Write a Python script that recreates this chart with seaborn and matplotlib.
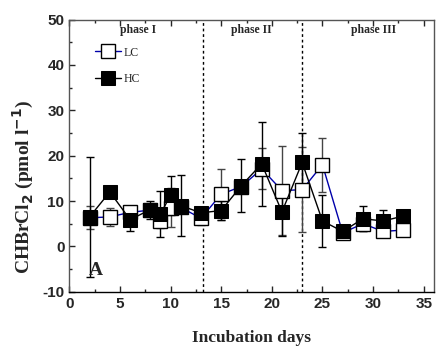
import numpy as np
import matplotlib
matplotlib.use('Agg')
import matplotlib.pyplot as plt
import seaborn as sns
import pandas as pd
from matplotlib.ticker import MultipleLocator

# incubation days and CHBrCl2 concentrations (pmol/l)
days = [2, 4, 6, 8, 9, 10, 11, 13, 15, 17, 19, 21, 23, 25, 27, 29, 31, 33]
lc = [6.3, 6.5, 7.5, 8.0, 5.5, 8.5, 8.6, 6.2, 11.5, 13.2, 17.1, 12.3, 12.5, 18.0, 3.0, 5.0, 3.3, 3.6]
lc_err = [2.5, 1.9, 0.9, 1.0, 1.5, 4.3, 1.0, 1.5, 5.6, 1.5, 4.5, 9.8, 9.4, 6.0, 1.0, 1.5, 1.0, 1.0]
hc = [6.5, 12.0, 5.9, 8.1, 7.1, 11.3, 9.0, 7.4, 7.9, 13.4, 18.2, 7.6, 18.5, 5.6, 3.3, 6.1, 5.6, 6.7]
hc_err = [13.3, 0.8, 2.6, 2.0, 5.0, 4.3, 6.8, 0.8, 2.0, 5.8, 9.2, 5.2, 6.4, 5.7, 0.8, 2.7, 2.5, 0.8]

phase_bounds = [13.2, 23]
phase_labels = ['phase I', 'phase II', 'phase III']
phase_pos = [6.8, 18.0, 30.0]

df = pd.DataFrame({'day': days, 'LC': lc, 'HC': hc})

sns.set_style('ticks')
plt.rcParams['font.family'] = ['Liberation Sans', 'DejaVu Sans']
plt.rcParams['axes.unicode_minus'] = False
serif = ['Liberation Serif', 'DejaVu Serif']

fig = plt.figure(figsize=(4.36, 3.49), dpi=100)
ax = fig.add_axes([0.159, 0.164, 0.836, 0.780])

# error bars first so markers sit on top
ax.errorbar(days, lc, yerr=lc_err, fmt='none', ecolor='#444444', elinewidth=1, capsize=3, zorder=2)
ax.errorbar(days, hc, yerr=hc_err, fmt='none', ecolor='black', elinewidth=1, capsize=3, zorder=2)

sns.lineplot(data=df, x='day', y='LC', ax=ax, color='#0000aa', lw=1, marker='s',
             markersize=10, markerfacecolor='white', markeredgecolor='black',
             markeredgewidth=1, label='LC', zorder=3)
sns.lineplot(data=df, x='day', y='HC', ax=ax, color='black', lw=1, marker='s',
             markersize=10, markerfacecolor='black', markeredgecolor='black',
             label='HC', zorder=4)

for b in phase_bounds:
    ax.axvline(b, color='black', ls=(0, (2, 2)), lw=1, zorder=1)
for lab, xp in zip(phase_labels, phase_pos):
    ax.text(xp, 47.6, lab, ha='center', va='center', fontsize=8.5,
            fontweight='bold', family=serif)

ax.text(2.6, -5.3, 'A', ha='center', va='center', fontsize=14,
        fontweight='bold', family=serif)

ax.set_xlim(0, 36)
ax.set_ylim(-10, 50)
ax.xaxis.set_major_locator(MultipleLocator(5))
ax.xaxis.set_minor_locator(MultipleLocator(2.5))
ax.yaxis.set_major_locator(MultipleLocator(10))
ax.yaxis.set_minor_locator(MultipleLocator(5))
ax.tick_params(which='both', direction='in', top=True, right=False, width=1)
ax.tick_params(which='major', length=4, labelsize=11)
ax.tick_params(which='minor', length=2.5)
for t in ax.get_xticklabels() + ax.get_yticklabels():
    t.set_fontweight('bold')

for s in ['left', 'top', 'right']:
    ax.spines[s].set_color('#555555')
ax.spines['bottom'].set_color('black')
for s in ax.spines.values():
    s.set_linewidth(1)

ax.set_xlabel('Incubation days', fontsize=12.5, fontweight='bold', family=serif, labelpad=14)
ax.set_ylabel(r'CHBrCl$_\mathbf{2}$ (pmol l$^\mathbf{-1}$)', fontsize=14,
              fontweight='bold', family=serif)
ax.yaxis.set_label_coords(-0.092, 0.385)

leg = ax.legend(loc='upper left', bbox_to_anchor=(0.04, 0.94), frameon=False,
                prop={'family': serif, 'size': 8.5}, handlelength=2.2,
                labelspacing=1.2, handletextpad=0.3)

fig.savefig('out.png', dpi=100)
